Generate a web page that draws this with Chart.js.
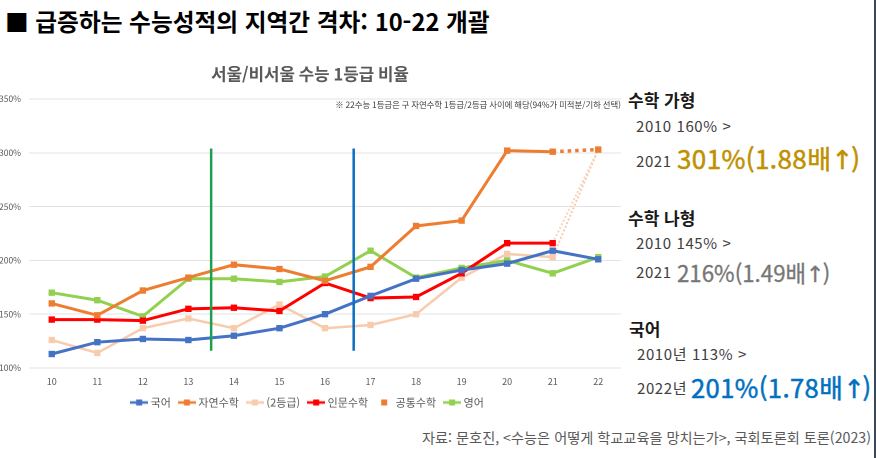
<!DOCTYPE html>
<html lang="ko">
<head>
<meta charset="utf-8">
<script src="https://cdn.jsdelivr.net/npm/chart.js@4.4.1/dist/chart.umd.min.js"></script>
<style>
  html, body { margin:0; padding:0; background:#fff; }
  body { width:876px; height:458px; position:relative; overflow:hidden; font-family:"Noto Sans CJK KR","Noto Sans",sans-serif; }
  .t { position:absolute; white-space:nowrap; line-height:1; }
  .s { font-size:15px; color:#404040; letter-spacing:0.6px; }
  .big { font-weight:400; -webkit-text-stroke:0.5px currentColor; letter-spacing:0.4px; }
  .arr { font-family:"DejaVu Sans",sans-serif; letter-spacing:-2px; }
  #chartBox { position:absolute; left:-4px; top:55px; width:630px; height:370px; }
  #edge { position:absolute; left:874px; top:0; width:2px; height:458px; background:#3a4757; }
</style>
</head>
<body>
<div class="t" style="left:5px; top:10px; font-size:23.7px; font-weight:700; color:#000;">■ 급증하는 수능성적의 지역간 격차: 10-22 개괄</div>

<div id="chartBox"><canvas id="c"></canvas></div>

<div class="t" style="left:628px; top:91px; font-size:17px; font-weight:700; color:#1a1a1a;">수학 가형</div>
<div class="t s" style="left:636px; top:118px;">2010 160% &gt;</div>
<div class="t s" style="left:636px; top:153px;">2021</div>
<div class="t big" style="left:677px; top:145px; font-size:26px; color:#bf9000;">301%(1.88배<span class="arr">↑</span>)</div>

<div class="t" style="left:628px; top:209px; font-size:17px; font-weight:700; color:#1a1a1a;">수학 나형</div>
<div class="t s" style="left:636px; top:235px;">2010 145% &gt;</div>
<div class="t s" style="left:636px; top:264px;">2021</div>
<div class="t" style="left:677px; top:261px; font-size:22.3px; color:#767676; -webkit-text-stroke:0.3px #767676;">216%(1.49배<span class="arr">↑</span>)</div>

<div class="t" style="left:629px; top:320px; font-size:17px; font-weight:700; color:#1a1a1a;">국어</div>
<div class="t s" style="left:637px; top:346px;">2010년 113% &gt;</div>
<div class="t s" style="left:637px; top:380px;">2022년</div>
<div class="t big" style="left:691px; top:374px; font-size:25.6px; color:#0070c0;">201%(1.78배<span class="arr">↑</span>)</div>

<div class="t" style="left:422px; top:430px; font-size:14.2px; color:#595959;">자료: 문호진, &lt;수능은 어떻게 학교교육을 망치는가&gt;, 국회토론회 토론(2023)</div>
<div id="edge"></div>

<script>
// ---- data ----
const years = ['10','11','12','13','14','15','16','17','18','19','20','21','22'];
const korean      = [113,124,127,126,130,137,150,167,183,191,197,209,201];
const naturalMath = [160,149,172,184,196,192,181,194,232,237,302,301,null];
const grade2      = [126,114,137,146,137,159,137,140,150,184,206,203,303];
const humanMath   = [145,145,144,155,156,153,179,165,166,188,216,216,303];
const commonMath  = [null,null,null,null,null,null,null,null,null,null,null,301,303];
const english     = [170,163,148,183,183,180,185,209,184,193,200,188,203];
const yTicks = [100,150,200,250,300,350];
const markerIdx = [3.5, 6.63];           // vertical marker positions (category index)
const markerRange = [116, 304];           // vertical marker extent (%)
const markerColors = ['#1fa050', '#0a6fc2'];
const chartTitle = '서울/비서울 수능 1등급 비율';
const chartNote = '※ 22수능 1등급은 구 자연수학 1등급/2등급 사이에 해당(94%가 미적분/기하 선택)';

const FONT = '"Noto Sans CJK KR","Noto Sans",sans-serif';
const last = years.length - 1;

function icon(color, line) {
  const c = document.createElement('canvas');
  c.width = 18; c.height = 8;
  const g = c.getContext('2d');
  if (line) { g.strokeStyle = color; g.lineWidth = 2.5; g.beginPath(); g.moveTo(0,4); g.lineTo(18,4); g.stroke(); }
  g.fillStyle = color; g.fillRect(6,1,6,6);
  return c;
}

const pr = (arr, hideLast) => arr.map((v,i) => (hideLast && i === last) ? 0 : 4.5);

const datasets = [
  { label:'국어', data:korean, borderColor:'#4472c4', backgroundColor:'#4472c4', borderWidth:3, pointRadius:4.5, order:3 },
  { label:'자연수학', data:naturalMath, borderColor:'#ed7d31', backgroundColor:'#ed7d31', borderWidth:3, pointRadius:4.5, order:2 },
  { label:'(2등급)', data:grade2, borderColor:'#f8cbad', backgroundColor:'#f8cbad', borderWidth:2.5, pointRadius:pr(grade2,true), order:6,
    segment:{ borderDash: c => c.p1DataIndex === last ? [2,2] : undefined, borderWidth: c => c.p1DataIndex === last ? 2 : undefined } },
  { label:'인문수학', data:humanMath, borderColor:'#ff0000', backgroundColor:'#ff0000', borderWidth:3, pointRadius:pr(humanMath,true), order:4,
    segment:{ borderDash: c => c.p1DataIndex === last ? [2,2] : undefined, borderColor: c => c.p1DataIndex === last ? '#f9d3c0' : undefined, borderWidth: c => c.p1DataIndex === last ? 2 : undefined } },
  { label:'공통수학', data:commonMath, borderColor:'#ed7d31', backgroundColor:'#ed7d31', borderWidth:3.5, borderDash:[3.5,4], pointRadius:commonMath.map((v,i)=> i===last ? 4.5 : 0), order:1, legendLine:false },
  { label:'영어', data:english, borderColor:'#92d050', backgroundColor:'#92d050', borderWidth:3, pointRadius:4.5, order:5 }
];
datasets.forEach(d => { d.pointStyle = 'rect'; d.pointBorderWidth = 0; d.tension = 0; d.spanGaps = false; d.pointHoverRadius = d.pointRadius; });

const decor = {
  id:'decor',
  afterDatasetsDraw(chart) {
    const {ctx, scales:{x, y}} = chart;
    ctx.save();
    markerIdx.forEach((m, i) => {
      const px = x.getPixelForValue(m);
      ctx.strokeStyle = markerColors[i]; ctx.lineWidth = 2.5;
      ctx.beginPath(); ctx.moveTo(px, y.getPixelForValue(markerRange[1])); ctx.lineTo(px, y.getPixelForValue(markerRange[0])); ctx.stroke();
    });
    ctx.restore();
  },
  afterDraw(chart) {
    const {ctx, chartArea:a} = chart;
    ctx.save();
    ctx.fillStyle = '#595959'; ctx.font = 'bold 16.8px ' + FONT; ctx.textAlign = 'center'; ctx.textBaseline = 'middle';
    ctx.fillText(chartTitle, 314, 19);
    ctx.fillStyle = '#404040'; ctx.font = '8.4px ' + FONT; ctx.textAlign = 'right';
    ctx.fillText(chartNote, a.right, a.top + 6);
    ctx.restore();
  }
};

new Chart(document.getElementById('c'), {
  type:'line',
  data:{ labels:years, datasets },
  plugins:[decor],
  options:{
    responsive:true, maintainAspectRatio:false, animation:false,
    devicePixelRatio: 2,
    layout:{ padding:{ top:44, right:5, left:0, bottom:7 } },
    plugins:{
      tooltip:{ enabled:false },
      legend:{
        position:'bottom',
        labels:{
          usePointStyle:true, pointStyleWidth:12, boxHeight:8, padding:10,
          color:'#595959', font:{ family:FONT, size:11 },
          generateLabels(chart) {
            return chart.data.datasets.map((d,i) => ({
              text:d.label, pointStyle:icon(d.borderColor, d.legendLine !== false),
              fillStyle:d.borderColor, strokeStyle:d.borderColor, lineWidth:0,
              hidden:false, datasetIndex:i, fontColor:'#595959'
            }));
          }
        }
      }
    },
    scales:{
      x:{
        offset:true,
        grid:{ display:false, drawTicks:false },
        border:{ display:false },
        ticks:{ color:'#595959', font:{ family:FONT, size:9 }, padding:8 },
        afterFit(s){ s.height = 19; }
      },
      y:{
        min:100, max:350,
        afterBuildTicks(s){ s.ticks = yTicks.map(v => ({ value:v })); },
        grid:{ color:'#e3e3e3', lineWidth:1, drawTicks:false },
        border:{ display:false },
        ticks:{ color:'#595959', font:{ family:FONT, size:8.5 }, padding:8, callback:v => v + '%' },
        afterFit(s){ s.width = 33; }
      }
    }
  }
});
</script>
</body>
</html>
